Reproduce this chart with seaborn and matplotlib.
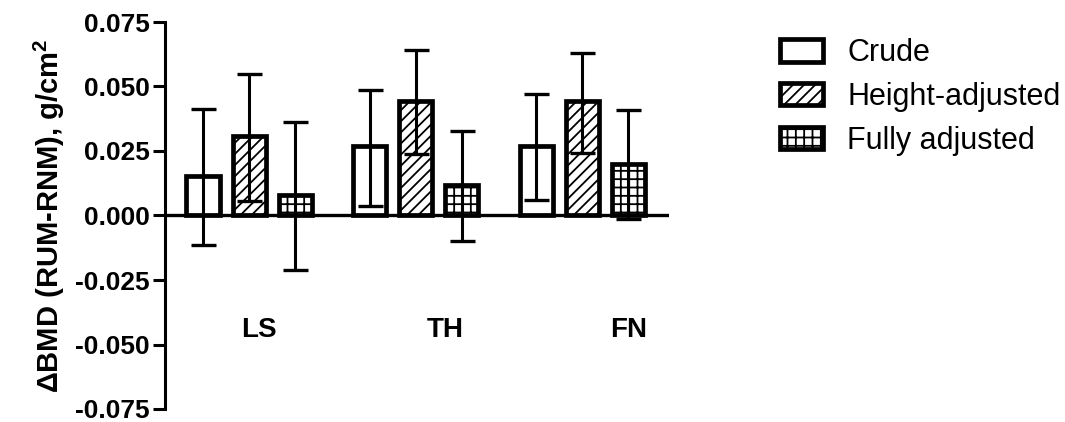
import numpy as np
import pandas as pd
import matplotlib
matplotlib.use("Agg")
import matplotlib.pyplot as plt
import seaborn as sns

# data
sites = ["LS", "TH", "FN"]
models = ["Crude", "Height-adjusted", "Fully adjusted"]

crude = [0.0152, 0.0268, 0.0268]
height_adj = [0.0307, 0.0442, 0.0442]
fully_adj = [0.0080, 0.0119, 0.0200]

crude_lo = [-0.0116, 0.0036, 0.0061]
crude_hi = [0.0411, 0.0488, 0.0469]
height_lo = [0.0058, 0.0239, 0.0243]
height_hi = [0.0549, 0.0640, 0.0631]
fully_lo = [-0.0213, -0.0097, -0.0015]
fully_hi = [0.0364, 0.0326, 0.0407]

yticks = [-0.075, -0.050, -0.025, 0.000, 0.025, 0.050, 0.075]

df = pd.DataFrame({
    "site": sites * 3,
    "model": np.repeat(models, 3),
    "bmd": crude + height_adj + fully_adj,
    "lo": crude_lo + height_lo + fully_lo,
    "hi": crude_hi + height_hi + fully_hi,
})

sns.set_style("white")
plt.rcParams["font.family"] = ["Liberation Sans", "DejaVu Sans"]
plt.rcParams["mathtext.fontset"] = "custom"
plt.rcParams["mathtext.bf"] = "Liberation Sans:bold"
plt.rcParams["mathtext.rm"] = "Liberation Sans"
plt.rcParams["hatch.linewidth"] = 1.3
plt.rcParams["hatch.color"] = "black"
plt.rcParams["text.color"] = "black"
plt.rcParams["axes.labelcolor"] = "black"
plt.rcParams["ytick.color"] = "black"

fig = plt.figure(figsize=(10.65, 4.22), dpi=100)
ax = fig.add_axes([165 / 1065, 1 - 409 / 422, (669 - 165) / 1065, (409 - 22) / 422])

sns.barplot(data=df, x="site", y="bmd", hue="model", order=sites, hue_order=models,
            palette=["white"] * 3, edgecolor="black", linewidth=3.4, width=0.83, gap=0.28,
            errorbar=None, legend=False, ax=ax, zorder=2)

hatches = ["", "///", "++"]
for cont, h in zip(ax.containers, hatches):
    for p in cont.patches:
        p.set_hatch(h)

# error bars (confidence limits)
for cont, m in zip(ax.containers, models):
    sub = df[df["model"] == m].set_index("site").loc[sites]
    for p, (_, row) in zip(cont.patches, sub.iterrows()):
        x = p.get_x() + p.get_width() / 2
        y = p.get_height()
        ax.errorbar(x, y, yerr=[[y - row["lo"]], [row["hi"] - y]], fmt="none",
                    ecolor="black", elinewidth=2.2, capsize=9, capthick=2.4, zorder=5)

ax.axhline(0, color="black", lw=2.4, zorder=4)

ax.set_ylim(-0.075, 0.075)
ax.set_xlim(-0.505, 2.52)
ax.set_yticks(yticks)
ax.set_yticklabels([f"{v:.3f}" for v in yticks], fontsize=19, fontweight="bold")
ax.set_xticks([])
ax.set_xlabel("")
ax.set_ylabel(r"ΔBMD (RUM-RNM), g/cm$^{\mathbf{2}}$", fontsize=21, fontweight="bold", labelpad=6)
ax.tick_params(axis="y", direction="out", length=9, width=2.2, left=True, pad=2)
for s in ["top", "right", "bottom"]:
    ax.spines[s].set_visible(False)
ax.spines["left"].set_linewidth(2.2)
ax.spines["left"].set_color("black")

# category labels sit below the zero line
for x, lab in zip([0.06, 1.18, 2.28], sites):
    ax.text(x, -0.0445, lab, ha="center", va="center", fontsize=20, fontweight="bold")

ax.legend(ax.containers, models, loc="upper left", bbox_to_anchor=(780 / 1065, 1 - 38 / 422),
          bbox_transform=fig.transFigure, frameon=False, fontsize=22, borderpad=0,
          borderaxespad=0, handlelength=1.4, handleheight=0.75, handletextpad=0.8,
          labelspacing=0.45)

fig.savefig("out.png", dpi=100)
